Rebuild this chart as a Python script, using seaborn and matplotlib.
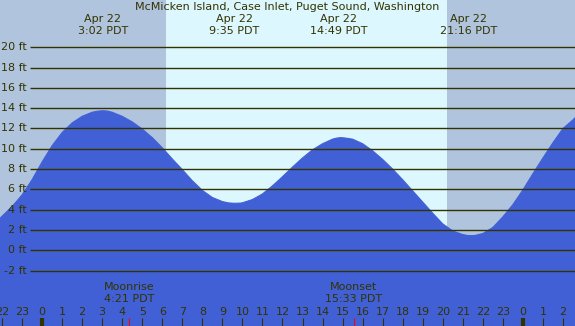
import matplotlib
matplotlib.use("Agg")
import matplotlib.pyplot as plt
import seaborn as sns
import pandas as pd

# --- Data ---
TITLE = "McMicken Island, Case Inlet, Puget Sound, Washington"

# hours since midnight Apr 22 (PDT) and tide height in ft
hours = [-2.1, -2.0, -1.5, -1.0, -0.5, 0.0, 0.5, 1.0, 1.5, 2.0, 2.5, 2.75, 3.0,
         3.25, 3.5, 4.0, 4.5, 5.0, 5.5, 6.0, 6.5, 7.0, 7.5, 8.0, 8.5, 9.0,
         9.3, 9.6, 9.9, 10.0, 10.5, 11.0, 11.5, 12.0, 12.5, 13.0, 13.5, 14.0,
         14.5, 14.7, 14.9, 15.1, 15.5, 16.0, 16.5, 17.0, 17.5, 18.0, 18.5,
         19.0, 19.5, 20.0, 20.5, 21.0, 21.2, 21.4, 21.6, 22.0, 22.5, 23.0,
         23.5, 24.0, 24.5, 25.0, 25.5, 26.0, 26.5, 26.6]
height_ft = [3.15, 3.35, 4.3, 5.45, 6.95, 8.7, 10.3, 11.6, 12.55, 13.2, 13.6, 13.7, 13.75,
             13.72, 13.6, 13.2, 12.65, 11.95, 11.1, 10.1, 9.0, 7.95, 6.85, 5.9, 5.2, 4.8,
             4.67, 4.63, 4.65, 4.68, 5.0, 5.55, 6.35, 7.25, 8.2, 9.1, 9.9, 10.5,
             10.95, 11.05, 11.1, 11.07, 10.95, 10.5, 9.8, 8.95, 8.0, 6.95, 5.85,
             4.75, 3.65, 2.6, 1.9, 1.55, 1.47, 1.44, 1.46, 1.65, 2.25, 3.3,
             4.5, 5.95, 7.55, 9.1, 10.6, 12.0, 12.85, 13.06]

# high / low tide labels
event_hours = [3.03, 9.58, 14.82, 21.27, 27.9]
event_dates = ["Apr 22", "Apr 22", "Apr 22", "Apr 22", "Apr 23"]
event_times = ["3:02 PDT", "9:35 PDT", "14:49 PDT", "21:16 PDT", "3:40 PDT"]

sunrise_h = 6.19
sunset_h = 20.2

moon_hours = [4.35, 15.55]
moon_names = ["Moonrise", "Moonset"]
moon_times = ["4:21 PDT", "15:33 PDT"]

ft_levels = list(range(-2, 21, 2))
hour_ticks = list(range(-2, 27))

NIGHT = "#b0c4de"
DAY = "#ddf7ff"
WATER = "#4160d6"
INK = "#333300"

XMIN, XMAX = -2.1, 26.6
YMIN, YMAX = -7.46, 24.66

sns.set_style("white")
plt.rcParams["font.family"] = ["DejaVu Sans"]

fig = plt.figure(figsize=(5.75, 3.26), dpi=100)
ax = fig.add_axes([0, 0, 1, 1])
ax.set_xlim(XMIN, XMAX)
ax.set_ylim(YMIN, YMAX)
ax.axis("off")

# day / night background
ax.axvspan(XMIN, sunrise_h, color=NIGHT, lw=0, zorder=0)
ax.axvspan(sunrise_h, sunset_h, color=DAY, lw=0, zorder=0)
ax.axvspan(sunset_h, XMAX, color=NIGHT, lw=0, zorder=0)

# tide
df = pd.DataFrame({"hour": hours, "ft": height_ft})
ax.fill_between(df["hour"], YMIN, df["ft"], color=WATER, lw=0, zorder=1)
sns.lineplot(data=df, x="hour", y="ft", color=WATER, lw=0.8, ax=ax, zorder=1)

# level lines and labels
for lv in ft_levels:
    ax.hlines(lv, -0.6, XMAX, color=INK, lw=1.0, zorder=2)
    ax.text(-0.75, lv, f"{lv} ft", ha="right", va="center", fontsize=8, color=INK, zorder=3)

# title and tide event labels
ax.text(12.23, 23.95, TITLE, ha="center", va="center", fontsize=8, color=INK)
for h, d, t in zip(event_hours, event_dates, event_times):
    ax.text(h, 22.8, d, ha="center", va="center", fontsize=8, color=INK)
    ax.text(h, 21.6, t, ha="center", va="center", fontsize=8, color=INK)

# moon labels
for h, n, t in zip(moon_hours, moon_names, moon_times):
    ax.text(h, -3.62, n, ha="center", va="center", fontsize=8, color=INK, zorder=3)
    ax.text(h, -4.8, t, ha="center", va="center", fontsize=8, color=INK, zorder=3)
    ax.vlines(h, YMIN, -6.67, color="red", lw=0.8, zorder=3)

# hour axis
for h in hour_ticks:
    ax.text(h, -6.08, str(h % 24), ha="center", va="center", fontsize=8, color=INK, zorder=3)
    ax.vlines(h, YMIN, -6.67, color=INK, lw=3 if h % 24 == 0 else 0.8, zorder=3)

fig.savefig("out.png", dpi=100)
